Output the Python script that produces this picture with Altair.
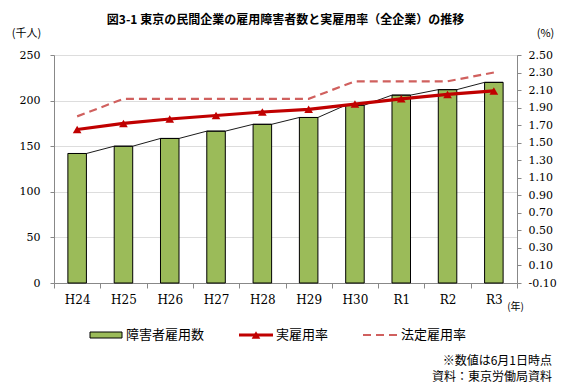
import altair as alt
import pandas as pd

# ---- data ----
years = ["H24", "H25", "H26", "H27", "H28", "H29", "H30", "R1", "R2", "R3"]
employed = [142, 150, 158.5, 166.5, 174, 181.5, 195, 206, 212, 220]          # 千人
actual_rate = [1.65, 1.72, 1.77, 1.81, 1.85, 1.88, 1.94, 2.00, 2.05, 2.09]    # %
legal_rate = [1.8, 2.0, 2.0, 2.0, 2.0, 2.0, 2.2, 2.2, 2.2, 2.3]              # %
left_ticks = [0, 50, 100, 150, 200, 250]
right_ticks = [-0.1, 0.1, 0.3, 0.5, 0.7, 0.9, 1.1, 1.3, 1.5, 1.7, 1.9, 2.1, 2.3, 2.5]
title_text = ["図3-1  東京の民間企業の雇用障害者数と実雇用率（全企業）の推移"]
legend_labels = ["障害者雇用数", "実雇用率", "法定雇用率"]
notes = ["※数値は6月1日時点", "資料：東京労働局資料"]

# ---- style ----
W, H = 463, 228
HALF = 0.2  # half bar width in category units
GRAY = "#868686"
GREEN = "#9BBB59"
RED = "#C00000"
DASHRED = "#D0605E"
SERIF = "DejaVu Serif, Liberation Serif, serif"
GOTHIC = "Noto Sans CJK JP"

n = len(years)
df = pd.DataFrame({
    "year": years,
    "idx": list(range(n)),
    "employed": employed,
    "actual": actual_rate,
    "legal": legal_rate,
})
series = pd.DataFrame(
    [{"pos": i + d, "v": v} for i, v in enumerate(employed) for d in (-HALF, HALF)]
)

xscale = alt.Scale(domain=[-0.5, n - 0.5], nice=False, zero=False)
yleft = alt.Scale(domain=[0, 250], nice=False)
yright = alt.Scale(domain=[-0.1, 2.5], nice=False, zero=False)

label_expr = "[" + ",".join("'%s'" % y for y in years) + "][datum.value]"

x_label_axis = alt.Axis(
    values=list(range(n)), labelExpr=label_expr, tickSize=0, labelPadding=11,
    labelFont=SERIF, labelFontSize=12, labelColor="#000",
    grid=False, labelFlush=False, labelOverlap=False, orient="bottom",
    title="(年)", titleX=461, titleY=23, titleAngle=0, titleAlign="center",
    titleBaseline="middle", titleFont=GOTHIC, titleFontSize=10,
    titleFontWeight="normal", titleColor="#000",
)
x_tick_axis = alt.Axis(
    values=[i - 0.5 for i in range(n + 1)], labels=False, tickSize=5,
    grid=False, domain=False, orient="bottom", title=None,
)

bars = alt.Chart(df).mark_bar(color=GREEN, stroke="#000", strokeWidth=1).transform_calculate(
    lo="datum.idx - %f" % HALF, hi="datum.idx + %f" % HALF
).encode(
    x=alt.X("lo:Q", scale=xscale, axis=x_label_axis),
    x2="hi:Q",
    y=alt.Y("employed:Q", scale=yleft, axis=alt.Axis(
        values=left_ticks, grid=True, tickSize=4, labelPadding=10,
        labelFont=SERIF, labelFontSize=11, labelColor="#000",
        labelOverlap=False,
        title="(千人)", titleAngle=0, titleX=-28, titleY=-22, titleAlign="center",
        titleBaseline="middle", titleFont=GOTHIC, titleFontSize=11,
        titleFontWeight="normal", titleColor="#000",
    )),
    y2=alt.datum(0),
)

series_line = alt.Chart(series).mark_line(color="#000", strokeWidth=0.9).encode(
    x=alt.X("pos:Q", scale=xscale, axis=x_tick_axis),
    y=alt.Y("v:Q", scale=yleft, axis=None),
)

legal_line = alt.Chart(df).mark_line(color=DASHRED, strokeWidth=2.2, strokeDash=[8, 5]).encode(
    x=alt.X("idx:Q", scale=xscale, axis=None),
    y=alt.Y("legal:Q", scale=yright, axis=None),
)

actual_line = alt.Chart(df).mark_line(
    color=RED, strokeWidth=3.2,
    point=alt.OverlayMarkDef(shape="triangle-up", size=75, color=RED, filled=True),
).encode(
    x=alt.X("idx:Q", scale=xscale, axis=None),
    y=alt.Y("actual:Q", scale=yright, axis=alt.Axis(
        orient="right", values=right_ticks, grid=False, tickSize=4,
        labelExpr="(datum.value < 0 ? '-' : '') + format(abs(datum.value), '.2f')",
        labelPadding=7, labelOverlap=False,
        labelFont=SERIF, labelFontSize=11, labelColor="#000",
        title="(%)", titleAngle=0, titleX=28, titleY=-22, titleAlign="center",
        titleBaseline="middle", titleFont=GOTHIC, titleFontSize=11,
        titleFontWeight="normal", titleColor="#000",
    )),
)

one = pd.DataFrame({"k": [0]})

title = alt.Chart(pd.DataFrame({"t": title_text})).mark_text(
    font=GOTHIC, fontSize=12, fontWeight="bold", align="center", baseline="middle", color="#000"
).encode(text="t:N", x=alt.value(W / 2), y=alt.value(-35.5))

# legend
leg_y = 280
leg_rect = alt.Chart(one).mark_rect(color=GREEN, stroke="#000", strokeWidth=1).encode(
    x=alt.value(36), x2=alt.value(68), y=alt.value(leg_y - 3), y2=alt.value(leg_y + 3)
)
leg_red = alt.Chart(one).mark_rule(color=RED, strokeWidth=3.2).encode(
    x=alt.value(185), x2=alt.value(219), y=alt.value(leg_y)
)
leg_tri = alt.Chart(one).mark_point(shape="triangle-up", size=75, color=RED, filled=True, opacity=1).encode(
    x=alt.value(202), y=alt.value(leg_y)
)
leg_dash = alt.Chart(one).mark_rule(color=DASHRED, strokeWidth=2.2, strokeDash=[8, 5]).encode(
    x=alt.value(309), x2=alt.value(344), y=alt.value(leg_y)
)
leg_df = pd.DataFrame({"t": legend_labels, "px": [72, 222, 347]})
leg_text = alt.Chart(leg_df).mark_text(
    font=GOTHIC, fontSize=13, align="left", baseline="middle", color="#000"
).encode(text="t:N", x=alt.X("px:Q", scale=None), y=alt.value(leg_y))

note_df = pd.DataFrame({"t": notes, "py": [306, 322]})
note_text = alt.Chart(note_df).mark_text(
    font=GOTHIC, fontSize=12, align="right", baseline="middle", color="#000"
).encode(text="t:N", x=alt.value(498), y=alt.Y("py:Q", scale=None))

chart = alt.layer(
    bars, series_line, legal_line, actual_line, title,
    leg_rect, leg_red, leg_tri, leg_dash, leg_text, note_text,
).resolve_scale(y="independent").resolve_axis(x="independent").properties(
    width=W, height=H,
    autosize=alt.AutoSizeParams(type="none"),
    padding={"left": 46, "top": 47, "right": 43, "bottom": 101},
).configure_axis(
    labelFont=SERIF, labelFontSize=12, labelColor="#000",
    domainColor=GRAY, tickColor=GRAY, gridColor=GRAY,
    domainWidth=1, tickWidth=1, gridWidth=1,
).configure_view(stroke=None).configure(background="white")

chart.save("out.html", embed_options={"renderer": "svg", "actions": False})
